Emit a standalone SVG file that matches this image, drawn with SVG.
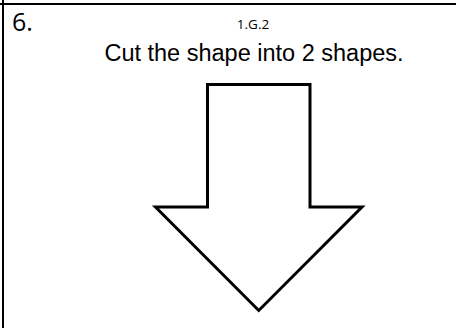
<svg xmlns="http://www.w3.org/2000/svg" width="456" height="328" viewBox="0 0 456 328">
<style>
.border{stroke:#000;stroke-width:2;fill:none}
.shape{stroke:#000;stroke-width:3;fill:#fff;stroke-linejoin:miter}
.cal{font-family:"Open Sans","Noto Sans",sans-serif;fill:#000}
.ar{font-family:"Liberation Sans",Arial,sans-serif;fill:#000}
</style>
<rect width="456" height="328" fill="#fff"/>
<g id="frame">
<line class="border" x1="0" y1="4" x2="456" y2="4"/>
<line class="border" x1="3" y1="0" x2="3" y2="328"/>
</g>
<g id="labels">
<text class="cal" x="12" y="31" font-size="25">6.</text>
<text class="cal" x="253" y="28.5" font-size="13.5" text-anchor="middle">1.G.2</text>
<text class="ar" x="254" y="61" font-size="23.5" text-anchor="middle">Cut the shape into 2 shapes.</text>
</g>
<g id="arrow">
<polygon class="shape" points="207.5,84.5 310,84.5 310,207 362,207 258.75,310.5 155.5,207 207.5,207"/>
</g>
</svg>
